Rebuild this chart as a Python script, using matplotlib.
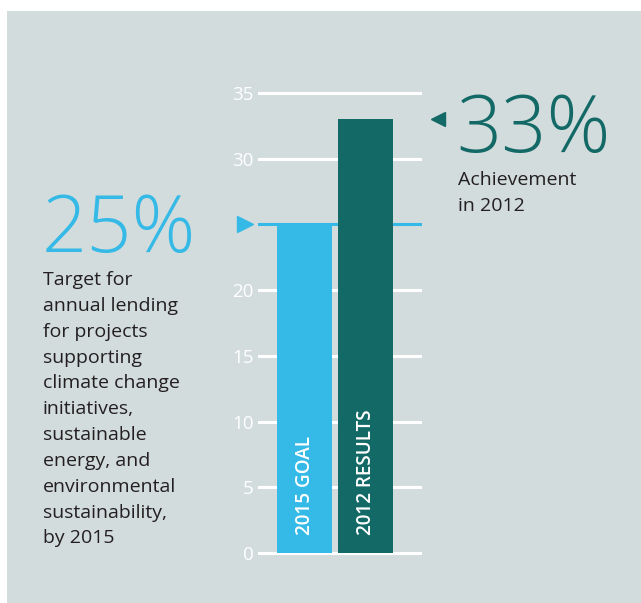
import matplotlib
matplotlib.use("Agg")
from matplotlib import pyplot as plt
from matplotlib.patches import Rectangle

# values
labels = ["2015 GOAL", "2012 RESULTS"]
values = [25, 33]
yticks = [0, 5, 10, 15, 20, 25, 30, 35]
goal_text = ("Target for\nannual lending\nfor projects\nsupporting\nclimate change\n"
             "initiatives,\nsustainable\nenergy, and\nenvironmental\nsustainability,\nby 2015")
result_text = "Achievement\nin 2012"

BG = "#d3dcdd"
CYAN = "#35b9e6"
TEAL = "#136966"
INK = "#231f20"
FONT = "Open Sans"

W, H = 641, 603
fig = plt.figure(figsize=(W / 100, H / 100), dpi=100, facecolor="white")

# grey panel behind everything
fig.patches.append(Rectangle((7 / W, 0), 1 - 7 / W, 1 - 11 / H, transform=fig.transFigure,
                             facecolor=BG, edgecolor="none", zorder=-5))

def px(x, y):
    return x / W, 1 - y / H

ax = fig.add_axes([259 / W, 50 / H, 161 / W, 460 / H])
ax.set_zorder(2)
ax.set_facecolor("none")
ax.set_xlim(-0.746, 1.893)
ax.set_ylim(0, 35)

for t in yticks:
    if t == values[0]:
        continue
    ax.axhline(t, color="white", lw=2.2, zorder=1, clip_on=False)
ax.axhline(values[0], color=CYAN, lw=2.2, zorder=1, clip_on=False)

colors = [CYAN, TEAL]
bars = ax.bar([0, 1], values, width=0.9, color=colors, zorder=2)

for i, lab in enumerate(labels):
    ax.text(i, 1.4, lab, rotation=90, ha="center", va="bottom", color="white",
            fontsize=13.6, fontweight="semibold", family=FONT, fontstretch="condensed", zorder=3)

# pointer triangles
ax.plot([-0.975], [values[0]], marker=">", ms=11, color=CYAN, clip_on=False, zorder=3)
ax.plot([2.19], [values[1]], marker="<", ms=10, color=TEAL, clip_on=False, zorder=3)

ax.set_yticks(yticks)
ax.set_yticklabels([str(t) if t != values[0] else "" for t in yticks],
                   color="white", fontsize=13.5, family=FONT)
ax.tick_params(axis="y", length=0, pad=4)
ax.set_xticks([])
for s in ax.spines.values():
    s.set_visible(False)

# callouts
fig.text(*px(42, 252), f"{values[0]}%", color=CYAN, fontsize=57, family=FONT,
         fontweight="light", ha="left", va="baseline")
fig.text(*px(43, 271), goal_text, color=INK, fontsize=14, family=FONT,
         ha="left", va="top", linespacing=1.56)
fig.text(*px(456, 152), f"{values[1]}%", color=TEAL, fontsize=57, family=FONT,
         fontweight="light", ha="left", va="baseline")
fig.text(*px(458, 171), result_text, color=INK, fontsize=14, family=FONT,
         ha="left", va="top", linespacing=1.56)

fig.savefig("out.png", dpi=100, facecolor=fig.get_facecolor())
